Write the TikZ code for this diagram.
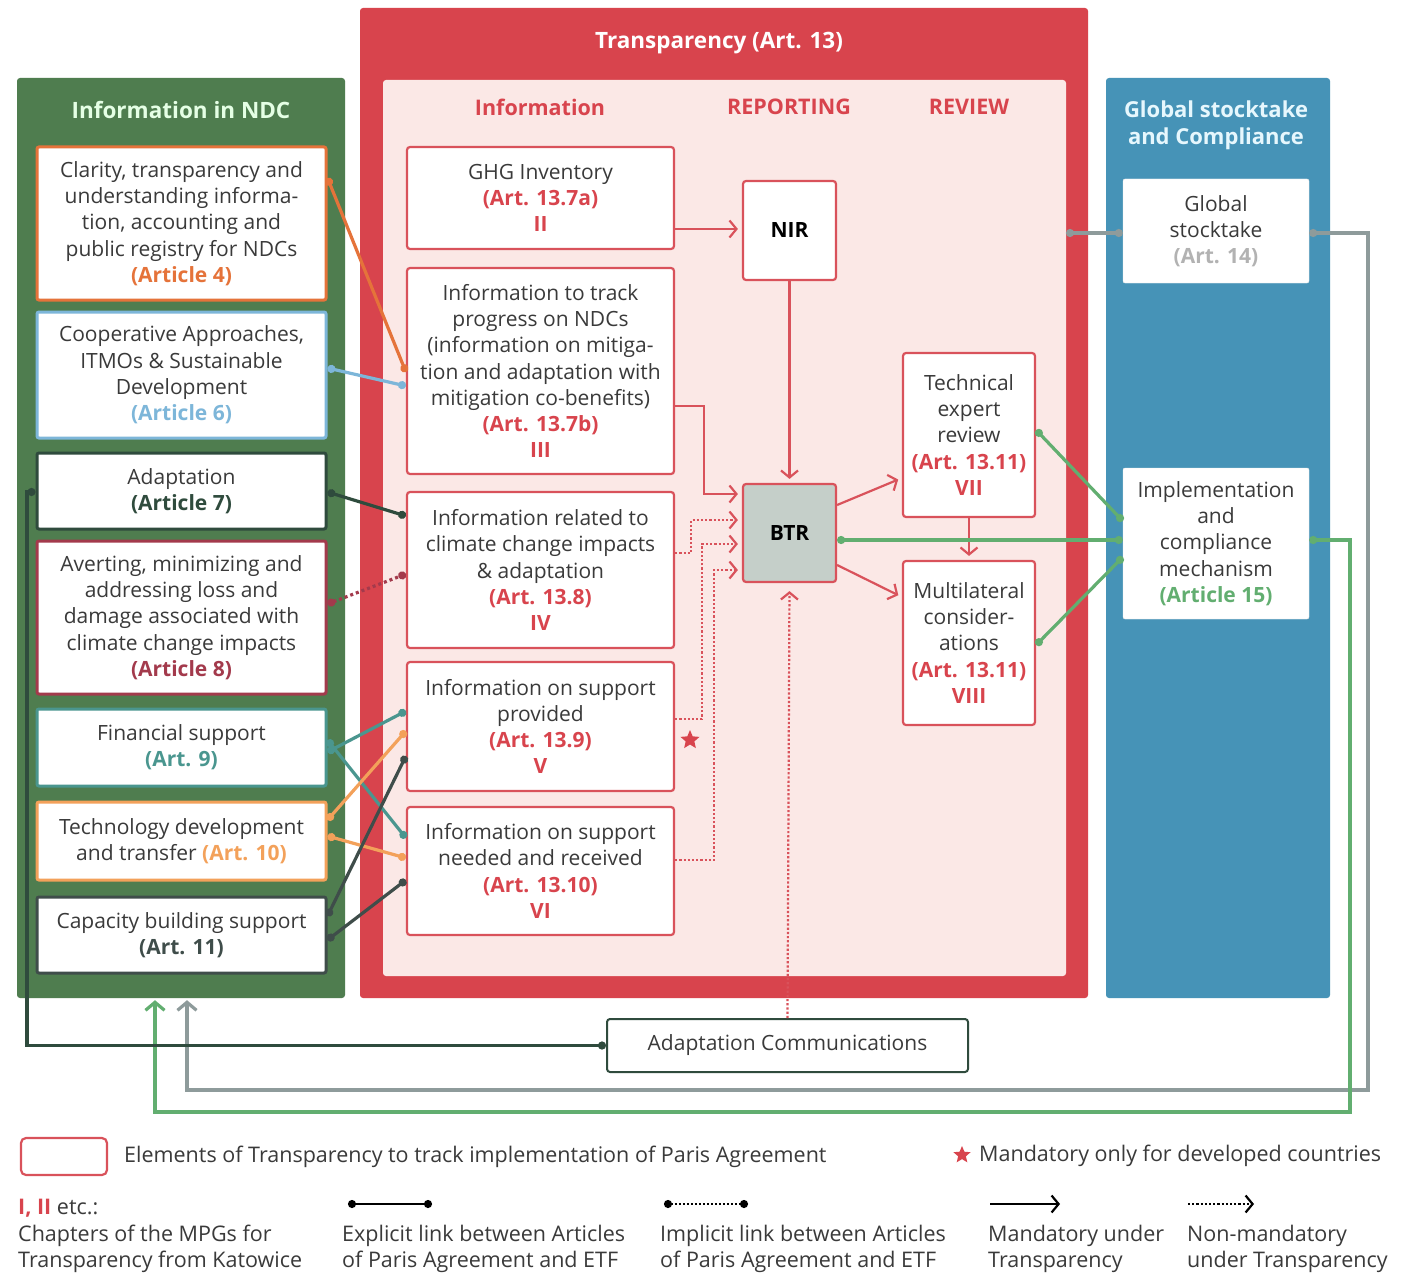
\documentclass[tikz,border=0pt]{standalone}
\usepackage{fontspec}
\setmainfont{Open Sans}
\usetikzlibrary{arrows.meta,shapes.geometric}

\definecolor{ndcgreen}{HTML}{4F7D4F}
\definecolor{transred}{HTML}{D8444D}
\definecolor{pinkbg}{HTML}{FBE8E6}
\definecolor{gstblue}{HTML}{4693B7}
\definecolor{boxred}{HTML}{D9525B}
\definecolor{txt}{HTML}{3A3A3A}
\definecolor{artfour}{HTML}{E5733A}
\definecolor{artsix}{HTML}{7DB6D9}
\definecolor{artseven}{HTML}{2F4B3D}
\definecolor{arteight}{HTML}{A33A4C}
\definecolor{artnine}{HTML}{4A968F}
\definecolor{artten}{HTML}{F3A15A}
\definecolor{arteleven}{HTML}{3F4D4A}
\definecolor{gstgray}{HTML}{8E9B9B}
\definecolor{icmgreen}{HTML}{62AE70}
\definecolor{btrgray}{HTML}{C5CFC9}

\begin{document}
\begin{tikzpicture}[x=1pt,y=-1pt,
	every node/.style={font=\fontsize{21}{26.3}\selectfont,text=txt,align=center},
	panel/.style={fill=#1,rounded corners=3pt,inner sep=0pt},
	ndcbox/.style={draw=#1,line width=3pt,fill=white,rounded corners=2pt,minimum width=289pt,inner sep=0pt},
	etfbox/.style={draw=boxred,line width=2.2pt,fill=white,rounded corners=3pt,inner sep=0pt},
	gstbox/.style={fill=white,draw=black!8,rounded corners=2pt,minimum width=186pt,inner sep=0pt},
	paneltitle/.style={font=\fontsize{22.5}{27}\selectfont\bfseries,text=#1},
	colhead/.style={font=\fontsize{21.5}{26}\selectfont\bfseries,text=transred},
	artlink/.style={draw=#1,line width=3.2pt,{Circle[length=8pt]}-{Circle[length=8pt]}},
	backlink/.style={draw=#1,line width=3.2pt,{Circle[length=8pt]}-{Straight Barb[length=8pt,width=19pt]}},
	mand/.style={draw=boxred,line width=2.2pt,-{Straight Barb[length=7pt,width=17pt]},shorten >=4pt},
	nonmand/.style={mand,dotted},
	redstar/.style={star,star points=5,star point ratio=2.2,fill=transred,inner sep=0pt,minimum size=20pt},
	legtxt/.style={anchor=west,inner sep=0pt,align=left,font=\fontsize{21.5}{26.5}\selectfont}]

\useasboundingbox (0,0) rectangle (1407,1273);
\fill[white] (0,0) rectangle (1407,1273);

% The three panels
\node[panel=ndcgreen,minimum width=328pt,minimum height=920pt] (ndc) at (181,538) {};
\node[panel=transred,minimum width=728pt,minimum height=990pt] (etf) at (724,503) {};
\node[panel=pinkbg,minimum width=683pt,minimum height=896pt] (etfin) at (724.5,528) {};
\node[panel=gstblue,minimum width=224pt,minimum height=920pt] (gsc) at (1218,538) {};

\node[paneltitle=green!10] (ndctitle) at (181,110) {Information in NDC};
\node[paneltitle=white] (etftitle) at (719,43) {Transparency (Art. 13)};
\node[paneltitle=cyan!10,font=\fontsize{22}{27}\selectfont\bfseries] (gsctitle) at (1216,125) {Global stocktake\\and Compliance};
\node[colhead] (infohead) at (540,107) {Information};
\node[colhead] (rephead) at (789,107) {REPORTING};
\node[colhead] (revhead) at (969,107) {REVIEW};

% Information in NDC
\node[ndcbox=artfour,minimum height=153pt] (art4) at (181.5,223.5) {Clarity, transparency and\\understanding informa-\\tion, accounting and\\public registry for NDCs\\\textcolor{artfour}{\textbf{(Article 4)}}};
\node[ndcbox=artsix,minimum height=126pt] (art6) at (181.5,375) {Cooperative Approaches,\\ITMOs \& Sustainable\\Development\\\textcolor{artsix}{\textbf{(Article 6)}}};
\node[ndcbox=artseven,minimum height=76pt] (art7) at (181.5,491) {Adaptation\\\textcolor{artseven}{\textbf{(Article 7)}}};
\node[ndcbox=arteight,minimum height=153pt] (art8) at (181.5,617.5) {Averting, minimizing and\\addressing loss and\\damage associated with\\climate change impacts\\\textcolor{arteight}{\textbf{(Article 8)}}};
\node[ndcbox=artnine,minimum height=77pt] (art9) at (181.5,747.5) {Financial support\\\textcolor{artnine}{\textbf{(Art. 9)}}};
\node[ndcbox=artten,minimum height=78pt] (art10) at (181.5,841) {Technology development\\and transfer \textcolor{artten}{\textbf{(Art. 10)}}};
\node[ndcbox=arteleven,minimum height=76pt] (art11) at (181.5,935) {Capacity building support\\\textcolor{arteleven}{\textbf{(Art. 11)}}};

% Information column
\node[etfbox,minimum width=267pt,minimum height=102pt] (ghg) at (540.5,198) {GHG Inventory\\\textcolor{transred}{\textbf{(Art. 13.7a)}}\\\textcolor{transred}{\textbf{II}}};
\node[etfbox,minimum width=267pt,minimum height=206pt] (track) at (540.5,371) {Information to track\\progress on NDCs\\(information on mitiga-\\tion and adaptation with\\mitigation co-benefits)\\\textcolor{transred}{\textbf{(Art. 13.7b)}}\\\textcolor{transred}{\textbf{III}}};
\node[etfbox,minimum width=267pt,minimum height=156pt] (impacts) at (540.5,570) {Information related to\\climate change impacts\\\& adaptation\\\textcolor{transred}{\textbf{(Art. 13.8)}}\\\textcolor{transred}{\textbf{IV}}};
\node[etfbox,minimum width=267pt,minimum height=129pt] (provided) at (540.5,726.5) {Information on support\\provided\\\textcolor{transred}{\textbf{(Art. 13.9)}}\\\textcolor{transred}{\textbf{V}}};
\node[etfbox,minimum width=267pt,minimum height=128pt] (needed) at (540.5,871) {Information on support\\needed and received\\\textcolor{transred}{\textbf{(Art. 13.10)}}\\\textcolor{transred}{\textbf{VI}}};

% Reporting and review
\node[etfbox,minimum width=93pt,minimum height=99pt,font=\fontsize{21}{26}\selectfont\bfseries,text=black] (nir) at (789.5,230.5) {NIR};
\node[etfbox,fill=btrgray,minimum width=93pt,minimum height=98pt,font=\fontsize{21}{26}\selectfont\bfseries,text=black] (btr) at (789.5,533) {BTR};
\node[etfbox,minimum width=132pt,minimum height=164pt] (ter) at (969,435) {Technical\\expert\\review\\\textcolor{transred}{\textbf{(Art. 13.11)}}\\\textcolor{transred}{\textbf{VII}}};
\node[etfbox,minimum width=132pt,minimum height=164pt] (mc) at (969,643) {Multilateral\\consider-\\ations\\\textcolor{transred}{\textbf{(Art. 13.11)}}\\\textcolor{transred}{\textbf{VIII}}};

% Global stocktake and compliance
\node[gstbox,minimum height=104pt] (gst) at (1216,231) {Global\\stocktake\\\textcolor{black!30}{\textbf{(Art. 14)}}};
\node[gstbox,minimum height=151pt] (icm) at (1216,543.5) {Implementation\\and\\compliance\\mechanism\\\textcolor{icmgreen}{\textbf{(Article 15)}}};

\node[draw=artseven,line width=2pt,fill=white,rounded corners=3pt,minimum width=361pt,minimum height=53pt] (ac) at (787.5,1045.5) {Adaptation Communications};

% Links between articles and the ETF
\draw[artlink=artfour] (art4.east |- 0,178) -- (track.west |- 0,372);
\draw[artlink=artsix] (art6.east |- 0,368) -- (track.west |- 0,386);
\draw[artlink=artseven] (art7.east |- 0,492) -- (impacts.west |- 0,516);
\draw[artlink=arteight,dash pattern=on 3pt off 3pt] (art8.east |- 0,604) -- (impacts.west |- 0,574);
\foreach \a/\ya/\b/\yb/\c in {art9/740/needed/838/artnine, art9/752/provided/711/artnine,
	art10/820/provided/731/artten, art10/836/needed/858/artten,
	art11/916/provided/756/arteleven, art11/940/needed/880/arteleven}{
\draw[artlink=\c] (\a.east |- 0,\ya) -- (\b.west |- 0,\yb);
}

% Mandatory and non-mandatory flows
\draw[mand] (ghg.east |- 0,229) -- (nir.west |- 0,229);
\draw[mand] (nir.south) -- (btr.north);
\draw[mand] (track.east |- 0,406) -- (704,406) |- (btr.west |- 0,494);
\draw[mand] (btr.east |- 0,505) -- (ter.west |- 0,478);
\draw[mand] (btr.east |- 0,565) -- (mc.west |- 0,597);
\draw[mand] (ter.south) -- (mc.north);
\draw[nonmand] (impacts.east |- 0,553) -- (691,553) |- (btr.west |- 0,520);
\draw[nonmand] (provided.east |- 0,719) -- (702,719) |- (btr.west |- 0,544);
\draw[nonmand] (needed.east |- 0,860) -- (714,860) |- (btr.west |- 0,570);
\draw[nonmand,shorten >=8pt] (ac.north) -- (btr.south);
\node[redstar] (star) at (690,740) {};

% Links to global stocktake and compliance
\coordinate (gstin) at (1066,233);
\draw[artlink=gstgray] (gstin) -- (gst.west |- gstin);
\draw[artlink=icmgreen] (btr.east |- 0,540) -- (icm.west |- 0,540);
\draw[artlink=icmgreen] (ter.east |- 0,430) -- (icm.west |- 0,521);
\draw[artlink=icmgreen] (mc.east |- 0,645) -- (icm.west |- 0,557);

% Feedback to the NDC
\draw[backlink=gstgray,shorten >=2pt] (gst.east |- 0,233) -- (1368,233) |- (187,1090) -- (ndc.south -| 187,0);
\draw[backlink=icmgreen,shorten >=2pt] (icm.east |- 0,540) -- (1350,540) |- (155,1112) -- (ndc.south -| 155,0);
\draw[artlink=artseven] (ac.west) -- (27,1045.5) |- (art7.west |- 0,492);

% Legend
\node[etfbox,minimum width=86pt,minimum height=37pt,rounded corners=5pt] (legbox) at (64,1156.5) {};
\node[legtxt] (legboxtxt) at (124,1157) {Elements of Transparency to track implementation of Paris Agreement};
\node[redstar,minimum size=18pt] (legstar) at (962,1155) {};
\node[legtxt] (legstartxt) at (979,1156) {Mandatory only for developed countries};
\node[legtxt] (legchap) at (18,1236) {\textcolor{transred}{\textbf{I, II}} etc.:\\Chapters of the MPGs for\\Transparency from Katowice};

\coordinate (legexa) at (348,1204);
\coordinate (legexb) at (432,1204);
\draw[artlink=black,line width=2.4pt] (legexa) -- (legexb);
\node[legtxt] (legextxt) at (342,1249) {Explicit link between Articles\\of Paris Agreement and ETF};

\coordinate (legima) at (664,1204);
\coordinate (legimb) at (748,1204);
\draw[artlink=black,line width=2.4pt,dash pattern=on 2pt off 2pt] (legima) -- (legimb);
\node[legtxt] (legimtxt) at (660,1249) {Implicit link between Articles\\of Paris Agreement and ETF};

\coordinate (legmaa) at (990,1204);
\coordinate (legmab) at (1060,1204);
\draw[mand,draw=black,shorten >=0pt] (legmaa) -- (legmab);
\node[legtxt] (legmatxt) at (988,1249) {Mandatory under\\Transparency};

\coordinate (legnma) at (1188,1204);
\coordinate (legnmb) at (1254,1204);
\draw[nonmand,draw=black,shorten >=0pt] (legnma) -- (legnmb);
\node[legtxt] (legnmtxt) at (1187,1249) {Non-mandatory\\under Transparency};

\end{tikzpicture}
\end{document}
